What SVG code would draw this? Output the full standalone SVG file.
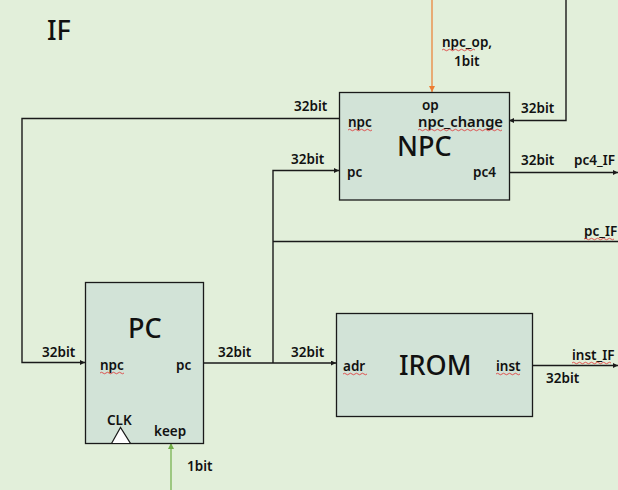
<svg xmlns="http://www.w3.org/2000/svg" width="618" height="490" viewBox="0 0 618 490">
<defs>
<style>
.bg{fill:#E2EFDA}
.box{fill:#D2E3D7;stroke:#1a1a1a;stroke-width:1.3}
.w{fill:none;stroke:#1a1a1a;stroke-width:1.4}
.lbl{font-family:"Noto Sans","DejaVu Sans",sans-serif;font-size:13.5px;font-weight:600;fill:#111}
.big{font-family:"Noto Sans","DejaVu Sans",sans-serif;font-size:27px;font-weight:500;fill:#111}
.sq{fill:none;stroke:#e03030;stroke-width:0.8}
</style>
<marker id="ah" viewBox="0 0 10 10" refX="10" refY="5" markerWidth="5" markerHeight="5" orient="auto" markerUnits="userSpaceOnUse">
<path d="M0,0 L10,5 L0,10 z" fill="#1a1a1a"/>
</marker>
<marker id="ahO" viewBox="0 0 10 10" refX="10" refY="5" markerWidth="6" markerHeight="6" orient="auto" markerUnits="userSpaceOnUse">
<path d="M0,0 L10,5 L0,10 z" fill="#ED7D31"/>
</marker>
<marker id="ahG" viewBox="0 0 10 10" refX="10" refY="5" markerWidth="6" markerHeight="6" orient="auto" markerUnits="userSpaceOnUse">
<path d="M0,0 L10,5 L0,10 z" fill="#70AD47"/>
</marker>
</defs>
<rect class="bg" x="0" y="0" width="618" height="490"/>
<text class="big" x="47" y="40">IF</text>

<g id="connectors">
<path class="w" d="M339,118.5 H22 V362.5 H85" marker-end="url(#ah)"/>
<path class="w" d="M203,363 H336" marker-end="url(#ah)"/>
<path class="w" d="M273,363 V170.5 H339" marker-end="url(#ah)"/>
<path class="w" d="M273,241.5 H618"/>
<path class="w" d="M566,0 V120.5 H509" marker-end="url(#ah)"/>
<path class="w" d="M509,172.5 H618" marker-end="url(#ah)"/>
<path class="w" d="M533,365.5 H618" marker-end="url(#ah)"/>
<path d="M432,0 V92" fill="none" stroke="#ED7D31" stroke-width="1.2" marker-end="url(#ahO)"/>
<path d="M171,490 V443" fill="none" stroke="#70AD47" stroke-width="1.2" marker-end="url(#ahG)"/>
<text class="lbl" x="294" y="111">32bit</text>
<text class="lbl" x="291" y="164">32bit</text>
<text class="lbl" x="42" y="357">32bit</text>
<text class="lbl" x="218" y="357">32bit</text>
<text class="lbl" x="291" y="357">32bit</text>
<text class="lbl" x="521" y="113">32bit</text>
<text class="lbl" x="521" y="165">32bit</text>
<text class="lbl" x="574" y="165">pc4_IF</text>
<text class="lbl" x="584" y="236">pc_IF</text>
<text class="lbl" x="572" y="360">inst_IF</text>
<text class="lbl" x="546" y="383">32bit</text>
<text class="lbl" x="442" y="47">npc_op,</text>
<text class="lbl" x="454" y="65.5">1bit</text>
<text class="lbl" x="187" y="471">1bit</text>
<path class="sq" d="M584,239 q1.5,-1.5 3,0 t3,0 t3,0 t3,0 t3,0 t3,0 t3,0 t3,0 t3,0 t3,0"/>
<path class="sq" d="M572,363 q1.5,-1.5 3,0 t3,0 t3,0 t3,0 t3,0 t3,0 t3,0 t3,0 t3,0 t3,0 t3,0 t3,0 t3,0"/>
<path class="sq" d="M442,50 q1.5,-1.5 3,0 t3,0 t3,0 t3,0 t3,0 t3,0 t3,0 t3,0 t3,0 t3,0 t3,0"/>
</g>

<g id="NPC">
<rect class="box" x="339.5" y="92.5" width="170" height="107.5"/>
<text class="lbl" x="422" y="110">op</text>
<text class="lbl" x="348" y="127">npc</text>
<text class="lbl" x="418" y="127" textLength="85" lengthAdjust="spacingAndGlyphs">npc_change</text>
<text class="big" x="397" y="156">NPC</text>
<text class="lbl" x="347" y="177">pc</text>
<text class="lbl" x="473" y="177">pc4</text>
<path class="sq" d="M348,130 q1.5,-1.5 3,0 t3,0 t3,0 t3,0 t3,0 t3,0 t3,0 t3,0"/>
<path class="sq" d="M418,130 q1.5,-1.5 3,0 t3,0 t3,0 t3,0 t3,0 t3,0 t3,0 t3,0 t3,0 t3,0 t3,0 t3,0 t3,0 t3,0 t3,0 t3,0 t3,0 t3,0 t3,0 t3,0 t3,0 t3,0 t3,0 t3,0 t3,0 t3,0 t3,0 t3,0"/>
</g>

<g id="PC">
<rect class="box" x="85.5" y="282.5" width="118" height="161"/>
<text class="big" x="128" y="338">PC</text>
<text class="lbl" x="100" y="370">npc</text>
<text class="lbl" x="176" y="370">pc</text>
<text class="lbl" x="107" y="425">CLK</text>
<text class="lbl" x="154" y="436">keep</text>
<path d="M111.5,443.5 L120.5,427.5 L130.5,443.5 z" fill="#fff" stroke="#1a1a1a" stroke-width="1.2"/>
<path class="sq" d="M100,373 q1.5,-1.5 3,0 t3,0 t3,0 t3,0 t3,0 t3,0 t3,0 t3,0"/>
</g>

<g id="IROM">
<rect class="box" x="336.5" y="313.5" width="196" height="103"/>
<text class="lbl" x="343" y="371">adr</text>
<text class="big" x="399" y="375">IROM</text>
<text class="lbl" x="496" y="371">inst</text>
<path class="sq" d="M343,374 q1.5,-1.5 3,0 t3,0 t3,0 t3,0 t3,0 t3,0 t3,0 t3,0"/>
<path class="sq" d="M496,374 q1.5,-1.5 3,0 t3,0 t3,0 t3,0 t3,0 t3,0 t3,0 t3,0"/>
</g>
</svg>
